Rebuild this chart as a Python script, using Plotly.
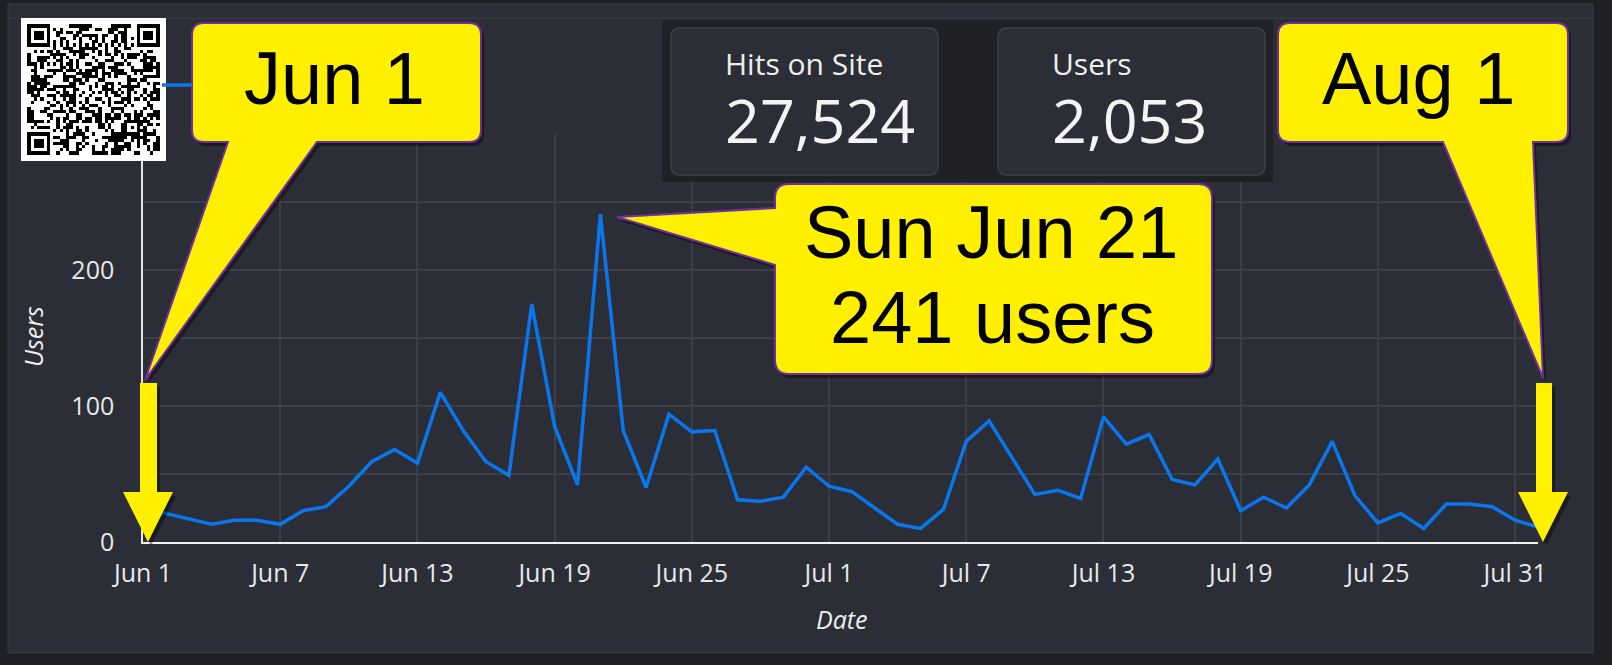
import pandas as pd
import plotly.graph_objects as go

FIG_W, FIG_H = 1612, 665

# daily users, Jun 1 .. Aug 1 2020
dates = pd.date_range("2020-06-01", "2020-08-01", freq="D")
users = [24, 21, 17, 13, 16, 16, 13, 23, 26, 41, 59, 68, 58, 110, 82, 59, 49, 175, 85, 42,
         241, 82, 40, 94, 81, 82, 31, 30, 33, 55,
         41, 37, 25, 13, 10, 24, 74, 89, 62, 35, 38, 32, 92, 72, 79, 46, 42, 61, 23, 33,
         25, 42, 74, 34, 14, 21, 10, 28, 28, 26, 16,
         11]

stat_labels = ["Hits on Site", "Users"]
stat_values = [27524, 2053]

callout_texts = ["Jun 1", "Aug 1", "Sun Jun 21", "241 users"]

BG = "#1f2023"
CARD = "#2b2e37"
GRID = "#3c3f47"
BLUE = "#0a76ee"
YELLOW = "#fff000"
PURPLE = "#7030a0"


def px(x, y):
    return x / FIG_W, 1 - y / FIG_H


def to_path(cmds, dx=0, dy=0):
    parts = []
    for c in cmds:
        if c == "Z":
            parts.append("Z")
            continue
        op, *pts = c
        coords = []
        for x, y in pts:
            u, v = px(x + dx, y + dy)
            coords.append(f"{u:.5f},{v:.5f}")
        parts.append(op + " " + " ".join(coords))
    return " ".join(parts)


def rounded_box(x0, y0, x1, y1, r, tail=None):
    # tail = (side, base_a, base_b, tip)
    cmds = [("M", (x0 + r, y0)), ("L", (x1 - r, y0)), ("Q", (x1, y0), (x1, y0 + r)),
            ("L", (x1, y1 - r)), ("Q", (x1, y1), (x1 - r, y1))]
    if tail and tail[0] == "bottom":
        cmds += [("L", (tail[2], y1)), ("L", tail[3]), ("L", (tail[1], y1))]
    cmds += [("L", (x0 + r, y1)), ("Q", (x0, y1), (x0, y1 - r))]
    if tail and tail[0] == "left":
        cmds += [("L", (x0, tail[2])), ("L", tail[3]), ("L", (x0, tail[1]))]
    cmds += [("L", (x0, y0 + r)), ("Q", (x0, y0), (x0 + r, y0)), "Z"]
    return cmds


def down_arrow(shaft_x0, shaft_x1, top, head_y, head_x0, head_x1, tip):
    return [("M", (shaft_x0, top)), ("L", (shaft_x1, top)), ("L", (shaft_x1, head_y)),
            ("L", (head_x1, head_y)), ("L", tip), ("L", (head_x0, head_y)),
            ("L", (shaft_x0, head_y)), "Z"]


def qr_matrix(n=41, quiet=2):
    finders = [(0, 0), (0, n - 7), (n - 7, 0)]
    size = n + 2 * quiet
    z = [[0] * size for _ in range(size)]
    for r in range(n):
        for c in range(n):
            val = None
            for r0, c0 in finders:
                if r0 - 1 <= r <= r0 + 7 and c0 - 1 <= c <= c0 + 7:
                    dr, dc = r - r0, c - c0
                    if 0 <= dr <= 6 and 0 <= dc <= 6:
                        val = 1 if (dr in (0, 6) or dc in (0, 6) or (2 <= dr <= 4 and 2 <= dc <= 4)) else 0
                    else:
                        val = 0
            if val is None and n - 11 <= r <= n - 7 and n - 11 <= c <= n - 7:
                d = max(abs(r - (n - 9)), abs(c - (n - 9)))
                val = 1 if d in (0, 2) else 0
            if val is None and r == 6:
                val = (c + 1) % 2
            if val is None and c == 6:
                val = (r + 1) % 2
            if val is None:
                h = (r * 73856093) ^ (c * 19349663) ^ (r * c * 83492791)
                val = 1 if (h >> 3) % 100 < 50 else 0
            z[r + quiet][c + quiet] = val
    return z


fig = go.Figure()

fig.add_trace(go.Scatter(
    x=dates, y=users, name="Users", mode="lines",
    line=dict(color=BLUE, width=3.5),
))

qr = qr_matrix()
fig.add_trace(go.Heatmap(
    z=qr, xaxis="x2", yaxis="y2", showscale=False, showlegend=False,
    colorscale=[[0, "white"], [1, "black"]], zmin=0, zmax=1, hoverinfo="skip",
))

shapes = []
# dashboard card
shapes.append(dict(type="rect", xref="paper", yref="paper", layer="below",
                    x0=px(8, 4)[0], y0=px(8, 4)[1], x1=px(1593, 653)[0], y1=px(1593, 653)[1],
                    fillcolor=CARD, line=dict(color="#393c44", width=1)))
shapes.append(dict(type="line", xref="paper", yref="paper", layer="below",
                    x0=px(8, 18)[0], y0=px(8, 18)[1], x1=px(1593, 18)[0], y1=px(1593, 18)[1],
                    line=dict(color="#393c44", width=1)))

# stat boxes
shapes.append(dict(type="rect", xref="paper", yref="paper", layer="above",
                    x0=px(662, 20)[0], y0=px(662, 20)[1], x1=px(1273, 182)[0], y1=px(1273, 182)[1],
                    fillcolor="#1f2125", line=dict(width=0)))
stat_boxes = [(671, 28, 938, 175), (998, 28, 1265, 175)]
for b in stat_boxes:
    shapes.append(dict(type="path", xref="paper", yref="paper", layer="above",
                        path=to_path(rounded_box(*b, 9)),
                        fillcolor=CARD, line=dict(color="#3e4149", width=1.5)))

# callouts
callouts = [
    rounded_box(192, 23, 481, 142, 12, ("bottom", 228, 317, (145, 380))),
    rounded_box(1278, 23, 1568, 142, 12, ("bottom", 1443, 1533, (1543, 378))),
    rounded_box(775, 184, 1212, 374, 14, ("left", 208, 265, (617, 217))),
]
arrows = [
    down_arrow(140, 157, 383, 492, 123, 173, (148, 542)),
    down_arrow(1536, 1552, 383, 492, 1518, 1568, (1543, 542)),
]
for cmds in callouts + arrows:
    shapes.append(dict(type="path", xref="paper", yref="paper", layer="above",
                        path=to_path(cmds, 3, 4), fillcolor="rgba(0,0,0,0.4)", line=dict(width=0)))
for cmds in callouts:
    shapes.append(dict(type="path", xref="paper", yref="paper", layer="above",
                        path=to_path(cmds), fillcolor=YELLOW, line=dict(color=PURPLE, width=2)))
for cmds in arrows:
    shapes.append(dict(type="path", xref="paper", yref="paper", layer="above",
                        path=to_path(cmds), fillcolor=YELLOW, line=dict(width=0)))

annotations = []


def add_text(text, x, y, size, color, family, xanchor="center", angle=0, style="normal"):
    u, v = px(x, y)
    annotations.append(dict(text=text, x=u, y=v, xref="paper", yref="paper",
                            xanchor=xanchor, yanchor="middle", showarrow=False, textangle=angle,
                            font=dict(size=size, color=color, family=family, style=style)))


for (bx0, by0, bx1, by1), label, value in zip(stat_boxes, stat_labels, stat_values):
    add_text(label, bx0 + 52, 64, 30, "#eeeeee", "Open Sans", xanchor="left")
    add_text(f"{value:,}", bx0 + 52, 119, 61, "#f4f4f4", "Open Sans", xanchor="left")

ARIAL = "Liberation Sans, Arial"
add_text(callout_texts[0], 334, 78, 74, "black", ARIAL)
add_text(callout_texts[1], 1418, 78, 74, "black", ARIAL)
add_text(callout_texts[2], 991, 233, 74, "black", ARIAL)
add_text(callout_texts[3], 992, 317, 74, "black", ARIAL)

# axis titles
add_text("Date", 842, 619, 25, "#eeeeee", "Open Sans", style="italic")
add_text("Users", 33, 337, 25, "#eeeeee", "Open Sans", angle=-90, style="italic")

fig.update_layout(
    width=FIG_W, height=FIG_H, autosize=False,
    margin=dict(l=0, r=0, t=0, b=0, pad=0),
    paper_bgcolor=BG, plot_bgcolor=CARD,
    font=dict(family="Open Sans", color="#e8e8e8"),
    showlegend=True,
    legend=dict(orientation="h", x=px(157, 85)[0], y=px(157, 85)[1],
                xanchor="left", yanchor="middle", bgcolor="rgba(0,0,0,0)",
                font=dict(color="rgba(0,0,0,0)", size=20)),
    xaxis=dict(
        domain=[143 / FIG_W, 1538 / FIG_W], type="date",
        range=["2020-06-01", "2020-08-01"],
        tick0="2020-06-01", dtick=6 * 86400000, tickformat="%b %-d",
        showgrid=True, gridcolor=GRID, gridwidth=1.5,
        showline=True, linecolor="#f2f2f2", linewidth=2, zeroline=False,
        tickfont=dict(size=25, color="#e8e8e8"), ticks="", ticklabelstandoff=8,
        automargin=False,
    ),
    yaxis=dict(
        domain=[1 - 542 / FIG_H, 1 - 134 / FIG_H], range=[0, 300], dtick=100,
        showgrid=True, gridcolor=GRID, gridwidth=1.5,
        minor=dict(dtick=50, showgrid=True, gridcolor=GRID, gridwidth=1.5),
        showline=True, linecolor="#e6e6e6", linewidth=1.5, zeroline=False,
        tickfont=dict(size=25, color="#e8e8e8"), ticks="", ticklabelstandoff=22,
        automargin=False,
    ),
    xaxis2=dict(domain=[21 / FIG_W, 166 / FIG_W], anchor="y2", visible=False),
    yaxis2=dict(domain=[1 - 161 / FIG_H, 1 - 18 / FIG_H], anchor="x2", visible=False,
                autorange="reversed"),
    shapes=shapes,
    annotations=annotations,
)

# the page's default 8px body margin would shift the whole figure
fig.write_html("out.html", config={"displayModeBar": False},
               post_script="document.body.style.margin = '0';")
